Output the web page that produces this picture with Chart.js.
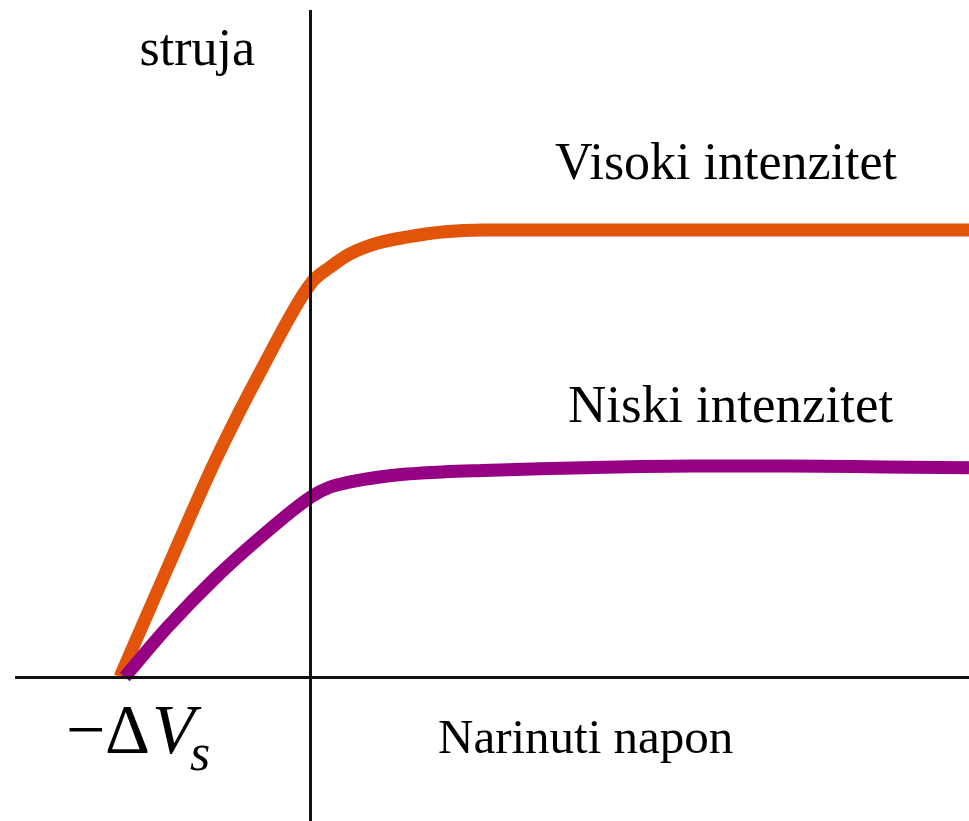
<!DOCTYPE html>
<html>
<head>
<meta charset="utf-8">
<script src="https://cdn.jsdelivr.net/npm/chart.js@4"></script>
<style>
  html, body { margin: 0; padding: 0; background: #fff; }
  #wrap { width: 969px; height: 821px; }
</style>
</head>
<body>
<div id="wrap"><canvas id="ivChart" width="969" height="821"></canvas></div>
<script>
// applied voltage (units of the stopping voltage) and photocurrent (arbitrary units)
const highVoltage = [-1, -0.75, -0.5, -0.25, 0, 0.1, 0.2, 0.35, 0.5, 0.7, 0.9, 1.5, 2.5, 3.445];
const highCurrent = [0, 2.45, 4.85, 6.95, 8.81, 9.17, 9.46, 9.71, 9.84, 9.96, 10, 10, 10, 10];

const lowVoltage = [-0.975, -0.75, -0.5, -0.25, 0, 0.1, 0.2, 0.35, 0.5, 0.7, 0.9, 1.2, 1.6, 2.0, 2.5, 3.0, 3.445];
const lowCurrent = [0, 1.12, 2.22, 3.18, 4.03, 4.25, 4.36, 4.47, 4.54, 4.59, 4.62, 4.66, 4.70, 4.72, 4.72, 4.70, 4.68];

const seriesLabels = ['Visoki intenzitet', 'Niski intenzitet'];
const axisLabels = { x: 'Narinuti napon', y: 'struja' };

const toPoints = (xs, ys) => xs.map((x, i) => ({ x: x, y: ys[i] }));

const SERIF = '"Liberation Serif", "DejaVu Serif", serif';

// text annotations, placed from the scales
const labelsPlugin = {
    id: 'labels',
    afterDraw(chart) {
        const ctx = chart.ctx;
        const xs = chart.scales.x, ys = chart.scales.y;
        const x0 = xs.getPixelForValue(0);
        const y0 = ys.getPixelForValue(0);
        ctx.save();
        ctx.fillStyle = '#000';
        ctx.textBaseline = 'alphabetic';

        ctx.font = '52px ' + SERIF;
        ctx.textAlign = 'right';
        ctx.fillText(axisLabels.y, x0 - 56, 65);

        ctx.textAlign = 'left';
        ctx.fillText(seriesLabels[0], 555, ys.getPixelForValue(10) - 51);
        ctx.font = '53px ' + SERIF;
        ctx.fillText(seriesLabels[1], 568, ys.getPixelForValue(4.7) - 45);

        ctx.font = '49px ' + SERIF;
        ctx.fillText(axisLabels.x, 438, y0 + 76);

        // -ΔV_s under the stopping voltage
        const xs0 = xs.getPixelForValue(-1);
        ctx.font = '70px ' + SERIF;
        ctx.fillText('\u2212', xs0 - 54, y0 + 76);
        ctx.fillText('\u0394', xs0 - 15, y0 + 76);
        ctx.font = 'italic 70px ' + SERIF;
        ctx.fillText('V', xs0 + 32, y0 + 76);
        ctx.font = 'italic 52px ' + SERIF;
        ctx.fillText('s', xs0 + 70, y0 + 93);
        ctx.restore();
    }
};

const axisOnly = {
    type: 'linear',
    display: true,
    ticks: { display: false },
    afterBuildTicks: axis => { axis.ticks = [{ value: 0 }]; },
    grid: { color: '#111', lineWidth: 3, drawTicks: false, z: 1 },
    border: { display: false }
};

new Chart(document.getElementById('ivChart'), {
    type: 'line',
    data: {
        datasets: [{
            label: seriesLabels[0],
            data: toPoints(highVoltage, highCurrent),
            borderColor: '#E2540A',
            borderWidth: 13,
            pointRadius: 0,
            cubicInterpolationMode: 'monotone',
            fill: false,
            order: 1
        }, {
            label: seriesLabels[1],
            data: toPoints(lowVoltage, lowCurrent),
            borderColor: '#960082',
            borderWidth: 13,
            pointRadius: 0,
            cubicInterpolationMode: 'monotone',
            fill: false,
            order: 0
        }]
    },
    options: {
        responsive: false,
        animation: false,
        layout: { padding: { left: 15, top: 10, right: 0, bottom: 0 } },
        plugins: { legend: { display: false }, tooltip: { enabled: false } },
        scales: {
            x: Object.assign({}, axisOnly, { min: -1.5497, max: 3.445 }),
            y: Object.assign({}, axisOnly, { min: -3.221, max: 14.922 })
        }
    },
    plugins: [labelsPlugin]
});
</script>
</body>
</html>
